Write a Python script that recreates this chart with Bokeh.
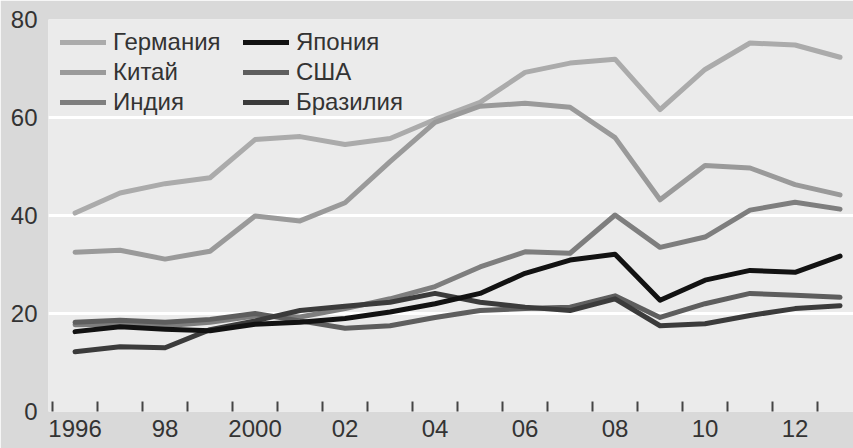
from bokeh.plotting import figure
from bokeh.models import FixedTicker, Legend, LegendItem, Range1d
from bokeh.embed import file_html
from bokeh.resources import INLINE

years = list(range(1996, 2014))
germany = [40.5, 44.6, 46.5, 47.7, 55.5, 56.1, 54.5, 55.7, 59.6, 63.1, 69.2, 71.1, 71.9, 61.6, 69.8, 75.2, 74.8, 72.3]
china = [32.5, 32.9, 31.1, 32.7, 39.9, 38.9, 42.6, 51.0, 59.0, 62.3, 62.9, 62.1, 55.9, 43.2, 50.2, 49.7, 46.3, 44.2]
india = [17.7, 17.8, 17.5, 18.2, 19.5, 19.3, 21.0, 23.0, 25.5, 29.5, 32.6, 32.3, 40.1, 33.5, 35.6, 41.1, 42.7, 41.3]
japan = [16.3, 17.3, 16.8, 16.5, 17.8, 18.2, 19.0, 20.3, 22.0, 24.1, 28.2, 30.9, 32.1, 22.7, 26.8, 28.8, 28.4, 31.7]
usa = [18.2, 18.6, 18.2, 18.8, 20.0, 18.5, 17.0, 17.5, 19.2, 20.6, 21.0, 21.3, 23.6, 19.2, 22.0, 24.1, 23.7, 23.3]
brazil = [12.2, 13.2, 13.0, 16.7, 18.5, 20.6, 21.5, 22.3, 24.1, 22.3, 21.3, 20.6, 23.0, 17.5, 17.9, 19.6, 21.0, 21.6]

x_label_years = [1996, 1998, 2000, 2002, 2004, 2006, 2008, 2010, 2012]
x_labels = ["1996", "98", "2000", "02", "04", "06", "08", "10", "12"]
y_ticks = [0, 20, 40, 60, 80]

FONT = "Liberation Sans"
TXT = "#333333"
W, H = 853, 448
BL, BT, BB = 48, 19, 37

p = figure(width=W, height=H, output_backend="svg", toolbar_location=None,
           x_range=Range1d(1995.41, 1995.41 + (W - BL) / 45.0), y_range=Range1d(0, 80),
           min_border_left=BL, min_border_top=BT, min_border_bottom=BB, min_border_right=0,
           border_fill_color="#d9d9d9", background_fill_color="#ebebeb",
           outline_line_color=None)

series = [
    ("Германия", germany, "#ababab"),
    ("Китай", china, "#9a9a9a"),
    ("Индия", india, "#7e7e7e"),
    ("США", usa, "#5e5e5e"),
    ("Бразилия", brazil, "#3b3b3b"),
    ("Япония", japan, "#121212"),
]
renderers = {}
for name, vals, col in series:
    r = p.line(years, vals, line_color=col, line_width=5, line_join="round", line_cap="round")
    renderers[name] = r

# x axis: labels at mid-year, tick marks at year boundaries (minor ticks)
p.xaxis.ticker = FixedTicker(ticks=x_label_years, minor_ticks=[y - 0.5 for y in years])
p.xaxis.major_label_overrides = {y: l for y, l in zip(x_label_years, x_labels)}
p.xaxis.major_tick_in = 0
p.xaxis.major_tick_out = 0
p.xaxis.minor_tick_in = 10
p.xaxis.minor_tick_out = 0
p.xaxis.minor_tick_line_color = "#444444"
p.xaxis.minor_tick_line_width = 2
p.xaxis.axis_line_color = None
p.xaxis.major_label_standoff = 8
p.xaxis.major_label_text_font = FONT
p.xaxis.major_label_text_font_size = "24px"
p.xaxis.major_label_text_color = TXT

p.yaxis.ticker = FixedTicker(ticks=y_ticks, minor_ticks=[])
p.yaxis.major_tick_in = 0
p.yaxis.major_tick_out = 0
p.yaxis.axis_line_color = None
p.yaxis.major_label_standoff = 11
p.yaxis.major_label_text_font = FONT
p.yaxis.major_label_text_font_size = "24px"
p.yaxis.major_label_text_color = TXT

p.xgrid.grid_line_color = None
p.ygrid.ticker = FixedTicker(ticks=[20, 40, 60])
p.ygrid.grid_line_color = "white"
p.ygrid.grid_line_width = 3

ROW = 30
def make_legend(names, loc):
    items = [LegendItem(label=n, renderers=[renderers[n]]) for n in names]
    lg = Legend(items=items, location=loc, padding=0, margin=0, spacing=0,
                glyph_width=46, glyph_height=ROW, label_height=ROW, label_standoff=7,
                background_fill_alpha=0, border_line_alpha=0,
                label_text_font=FONT, label_text_font_size="24px", label_text_color=TXT)
    return lg

frame_h = H - BT - BB
leg_y = frame_h - 8 - 3 * ROW
p.add_layout(make_legend(["Германия", "Китай", "Индия"], (12, leg_y)))
p.add_layout(make_legend(["Япония", "США", "Бразилия"], (195, leg_y)))

open("out.html", "w").write(file_html(p, INLINE))
